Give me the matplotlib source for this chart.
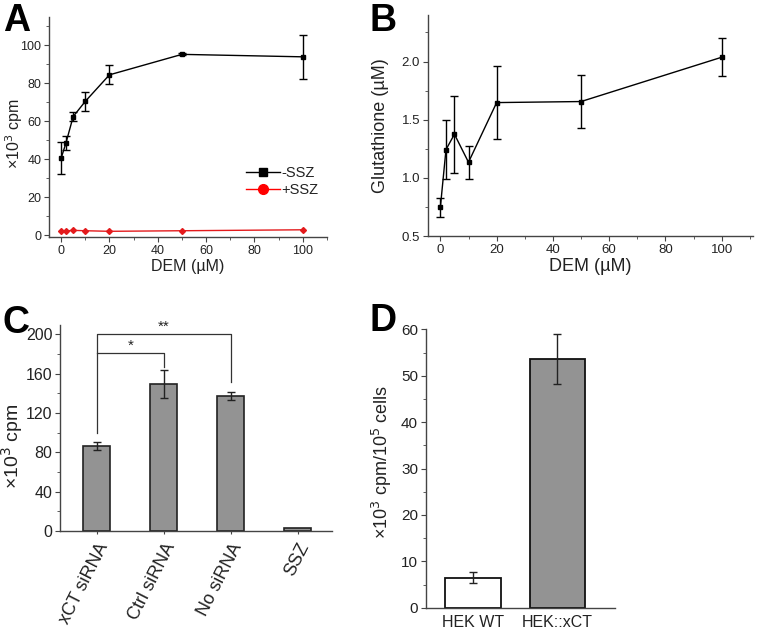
import matplotlib
matplotlib.use("Agg")
import matplotlib.pyplot as plt
from matplotlib.ticker import MultipleLocator, FixedLocator
from matplotlib.lines import Line2D
import numpy as np

plt.rcParams['font.family'] = ['Liberation Sans', 'DejaVu Sans']

# ---------------- data ----------------
dem = [0, 2, 5, 10, 20, 50, 100]
minus_ssz = [40.5, 48.5, 62.5, 70.5, 84.5, 95.3, 94.0]
minus_ssz_err = [8.5, 3.5, 2.5, 5.0, 5.0, 0.5, 11.5]
plus_ssz = [2.0, 2.2, 2.5, 2.3, 2.0, 2.3, 2.8]

gsh = [0.747, 1.243, 1.375, 1.134, 1.647, 1.656, 2.037]
gsh_err = [0.08, 0.25, 0.33, 0.14, 0.315, 0.225, 0.165]

c_labels = ["xCT siRNA", "Ctrl siRNA", "No siRNA", "SSZ"]
c_values = [86.4, 149.5, 137.0, 2.8]
c_err = [4.5, 14.0, 4.0, 0.0]

d_labels = ["HEK WT", "HEK::xCT"]
d_values = [6.5, 53.6]
d_err = [1.1, 5.4]

# ---------------- figure ----------------
fig = plt.figure(figsize=(7.57, 6.35), dpi=100)
W, H = 757, 635

def ax_px(l, r, t, b):
    return fig.add_axes([l / W, 1 - b / H, (r - l) / W, (b - t) / H])

spine_c = '#444444'
text_c = '#222222'

def style(ax, fs=8.5):
    for s in ['top', 'right']:
        ax.spines[s].set_visible(False)
    for s in ['left', 'bottom']:
        ax.spines[s].set_color(spine_c)
        ax.spines[s].set_linewidth(1.0)
    ax.tick_params(which='both', direction='out', colors=spine_c, labelcolor=text_c, labelsize=fs)
    ax.tick_params(which='major', length=3.5, pad=2)
    ax.tick_params(which='minor', length=2)

# Panel A
axA = ax_px(49, 327, 17, 237)
axA.errorbar(dem, minus_ssz, yerr=minus_ssz_err, color='black', marker='s', ms=3.5,
             lw=1.0, capsize=3, elinewidth=1.0, capthick=1.0, label='-SSZ')
axA.plot(dem, plus_ssz, color='#e31a1c', marker='D', ms=3, lw=1.0, label='+SSZ')
axA.set_xlim(-5, 110)
axA.set_ylim(-1, 115)
axA.xaxis.set_major_locator(MultipleLocator(20))
axA.xaxis.set_minor_locator(MultipleLocator(10))
axA.yaxis.set_major_locator(FixedLocator([0, 20, 40, 60, 80, 100]))
axA.yaxis.set_minor_locator(FixedLocator([10, 30, 50, 70, 90, 110]))
style(axA, fs=9)
axA.set_xlabel('DEM (µM)', fontsize=11.5, color=text_c, labelpad=2)
axA.set_ylabel('×10$^3$ cpm', fontsize=11.5, color=text_c)
axA.yaxis.set_label_coords(-0.086, 0.47)
handles = [Line2D([], [], color='black', marker='s', ms=5.5, lw=1.0),
           Line2D([], [], color='#ff0000', marker='o', ms=7, lw=1.0)]
leg = axA.legend(handles, ['-SSZ', '+SSZ'], loc='lower right', bbox_to_anchor=(1.0, 0.14),
                 frameon=False, fontsize=10.5, handlelength=2.3, handletextpad=0.1,
                 labelspacing=0.25, borderaxespad=0.2)
for t in leg.get_texts():
    t.set_color(text_c)

# Panel B
axB = ax_px(427.7, 752.7, 15, 236)
axB.errorbar(dem, gsh, yerr=gsh_err, color='black', marker='s', ms=3.5,
             lw=1.0, capsize=3, elinewidth=1.0, capthick=1.0)
axB.set_xlim(-4.5, 111)
axB.set_ylim(0.5, 2.4)
axB.xaxis.set_major_locator(MultipleLocator(20))
axB.xaxis.set_minor_locator(MultipleLocator(10))
axB.yaxis.set_major_locator(FixedLocator([0.5, 1.0, 1.5, 2.0]))
axB.yaxis.set_minor_locator(FixedLocator([0.75, 1.25, 1.75, 2.25]))
axB.yaxis.set_major_formatter(plt.FuncFormatter(lambda v, p: f"{v:.1f}"))
style(axB, fs=9.5)
axB.set_xlabel('DEM (µM)', fontsize=13, color=text_c, labelpad=2)
axB.set_ylabel('Glutathione (µM)', fontsize=13, color=text_c)
axB.yaxis.set_label_coords(-0.119, 0.5)

# Panel C
axC = ax_px(60, 331.7, 325, 531)
xc = np.arange(len(c_labels))
axC.bar(xc, c_values, width=0.4, color='#939393', edgecolor='#222222', linewidth=1.2)
axC.errorbar(xc[:3], c_values[:3], yerr=c_err[:3], fmt='none', ecolor='#222222',
             capsize=3, elinewidth=1.0, capthick=1.0)
axC.set_xlim(-0.55, 3.51)
axC.set_ylim(0, 209.5)
axC.set_xticks(xc)
axC.set_xticklabels(c_labels, rotation=63, ha='right', rotation_mode='anchor', fontsize=13)
axC.yaxis.set_major_locator(MultipleLocator(40))
axC.yaxis.set_minor_locator(MultipleLocator(20))
style(axC, fs=11.5)
axC.tick_params(axis='x', which='major', length=2.5, pad=4, labelsize=13)
axC.set_ylabel('×10$^3$ cpm', fontsize=14, color=text_c)
axC.yaxis.set_label_coords(-0.128, 0.41)
# significance brackets
bc = '#333333'
axC.plot([xc[0], xc[0], xc[2], xc[2]], [100, 200, 200, 152], color=bc, lw=0.9)
axC.plot([xc[0], xc[0], xc[1], xc[1]], [181, 181, 181, 167], color=bc, lw=0.9)
axC.text(xc[1], 200.5, '**', ha='center', va='bottom', fontsize=11, color=text_c)
axC.text((xc[0] + xc[1]) / 2, 181.5, '*', ha='center', va='bottom', fontsize=11, color=text_c)

# Panel D
axD = ax_px(425.7, 615, 329.3, 607.7)
xd = np.arange(len(d_labels))
axD.bar(xd, d_values, width=0.66, color=['white', '#939393'], edgecolor='#111111', linewidth=1.3)
axD.errorbar(xd, d_values, yerr=d_err, fmt='none', ecolor='#222222',
             capsize=3, elinewidth=1.0, capthick=1.0)
axD.set_xlim(-0.557, 1.68)
axD.set_ylim(0, 60)
axD.set_xticks(xd)
axD.set_xticklabels(d_labels)
axD.yaxis.set_major_locator(MultipleLocator(10))
axD.yaxis.set_minor_locator(MultipleLocator(5))
style(axD, fs=11)
axD.tick_params(axis='x', which='both', length=0, pad=5, labelsize=11.5)
axD.set_ylabel('×10$^3$ cpm/10$^5$ cells', fontsize=13, color=text_c)
axD.yaxis.set_label_coords(-0.167, 0.523)

# Panel letters
for lab, x, y in [('A', 3, 3), ('B', 370, 3), ('C', 2, 305), ('D', 369, 303)]:
    fig.text(x / W, 1 - y / H, lab, fontsize=27, fontweight='bold', ha='left', va='top',
             color='black')

fig.savefig('out.png', dpi=100)
